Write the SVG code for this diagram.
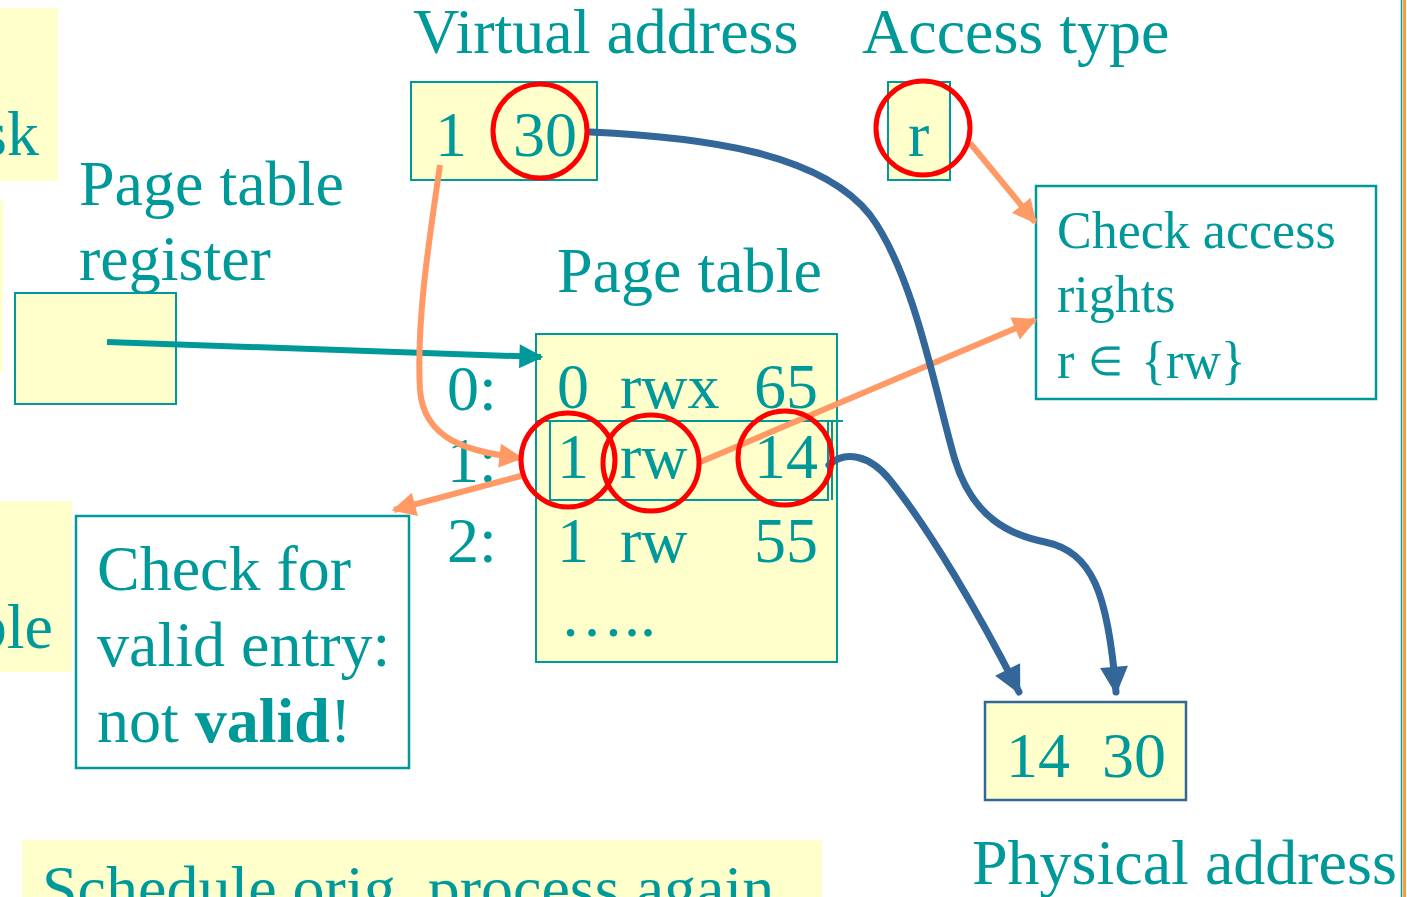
<svg xmlns="http://www.w3.org/2000/svg" width="1407" height="897" viewBox="0 0 1407 897">
  <style>
    .t { font-family: "Liberation Serif", "Times New Roman", serif; fill: #009999; }
    .big { font-size: 64px; }
    .mid { font-size: 52px; }
    .cell { fill: #FFFFCC; stroke: #009999; stroke-width: 2; }
    .note { fill: #FFFFFF; stroke: #009999; stroke-width: 2.5; }
    .pad { fill: #FFFFCC; }
    .ring { fill: none; stroke: #FF0000; stroke-width: 5; }
    .or { fill: none; stroke: #FF9966; stroke-width: 6; }
    .bl { fill: none; stroke: #336699; stroke-width: 7; stroke-linecap: round; }
    .tl { fill: none; stroke: #009999; stroke-width: 6; }
  </style>
  <defs>
    <marker id="ah-or" viewBox="0 0 10 10" refX="9" refY="5" markerWidth="28" markerHeight="24" markerUnits="userSpaceOnUse" orient="auto">
      <path d="M0,0 L10,5 L0,10 z" fill="#FF9966"/>
    </marker>
    <marker id="ah-bl" viewBox="0 0 10 10" refX="9" refY="5" markerWidth="32" markerHeight="28" markerUnits="userSpaceOnUse" orient="auto">
      <path d="M0,0 L10,5 L0,10 z" fill="#336699"/>
    </marker>
    <marker id="ah-tl" viewBox="0 0 10 10" refX="9" refY="5" markerWidth="30" markerHeight="24" markerUnits="userSpaceOnUse" orient="auto">
      <path d="M0,0 L10,5 L0,10 z" fill="#009999"/>
    </marker>
  </defs>

  <rect width="1407" height="897" fill="#FFFFFF"/>

  <!-- background panels partly outside the frame -->
  <g id="side-panels">
    <rect class="pad" x="0" y="8" width="58" height="173"/>
    <text class="t big" x="39" y="155" text-anchor="end">sk</text>
    <rect class="pad" x="0" y="200" width="3" height="173"/>
    <rect class="pad" x="0" y="501" width="72" height="171"/>
    <text class="t big" x="53" y="648" text-anchor="end">ble</text>
    <rect class="pad" x="22" y="840" width="800" height="57"/>
    <text class="t big" x="42" y="910">Schedule orig. process again</text>
  </g>

  <!-- frame edge on the right -->
  <g id="frame-edge">
    <line x1="1401.5" y1="0" x2="1401.5" y2="897" stroke="#009999" stroke-width="1.5"/>
    <line x1="1404.5" y1="0" x2="1404.5" y2="897" stroke="#FF9933" stroke-width="3"/>
  </g>

  <!-- virtual address -->
  <g id="virtual-address">
    <text class="t big" x="413" y="53">Virtual address</text>
    <rect class="cell" x="411" y="82" width="186" height="98"/>
    <text class="t big" x="435" y="156">1</text>
    <text class="t big" x="513" y="156">30</text>
  </g>

  <!-- access type -->
  <g id="access-type">
    <text class="t big" x="862" y="53">Access type</text>
    <rect class="cell" x="888" y="82" width="62" height="98"/>
    <text class="t big" x="908" y="156">r</text>
  </g>

  <!-- page table register -->
  <g id="page-table-register">
    <text class="t big" x="79" y="205">Page table</text>
    <text class="t big" x="79" y="280">register</text>
    <rect class="cell" x="15" y="293" width="161" height="111"/>
  </g>

  <!-- page table -->
  <g id="page-table">
    <text class="t big" x="557" y="292">Page table</text>
    <rect class="cell" x="536" y="334" width="301" height="328"/>
    <line x1="536" y1="421" x2="843" y2="421" stroke="#009999" stroke-width="2"/>
    <rect x="550" y="421" width="278" height="79" fill="none" stroke="#009999" stroke-width="2"/>
    <line x1="832" y1="421" x2="832" y2="500" stroke="#009999" stroke-width="2"/>
    <text class="t big" x="447" y="410">0:</text>
    <text class="t big" x="557" y="408">0</text>
    <text class="t big" x="620" y="408">rwx</text>
    <text class="t big" x="754" y="408">65</text>
    <text class="t big" x="447" y="482">1:</text>
    <text class="t big" x="557" y="478">1</text>
    <text class="t big" x="620" y="478">rw</text>
    <text class="t big" x="754" y="478">14</text>
    <text class="t big" x="447" y="562">2:</text>
    <text class="t big" x="557" y="562">1</text>
    <text class="t big" x="620" y="562">rw</text>
    <text class="t big" x="754" y="562">55</text>
    <text class="t big" x="560" y="636">…..</text>
  </g>

  <!-- access rights check -->
  <g id="check-access">
    <rect class="note" x="1036" y="186" width="340" height="213"/>
    <text class="t mid" x="1057" y="248">Check access</text>
    <text class="t mid" x="1057" y="312">rights</text>
    <text class="t mid" x="1057" y="378">r</text>
    <text class="t" font-size="40" x="1088" y="375">∈</text>
    <text class="t mid" x="1141" y="378">{rw}</text>
  </g>

  <!-- validity check -->
  <g id="check-valid">
    <rect class="note" x="76" y="516" width="333" height="252"/>
    <text class="t big" x="97" y="590">Check for</text>
    <text class="t big" x="97" y="666">valid entry:</text>
    <text class="t big" x="97" y="742">not <tspan font-weight="bold">valid</tspan>!</text>
  </g>

  <!-- physical address -->
  <g id="physical-address">
    <rect x="985" y="702" width="201" height="98" fill="#FFFFCC" stroke="#336699" stroke-width="2.5"/>
    <text class="t big" x="1006" y="777">14</text>
    <text class="t big" x="1102" y="777">30</text>
    <text class="t big" x="972" y="884">Physical address</text>
  </g>

  <!-- connectors -->
  <g id="connectors">
    <path class="tl" d="M107,342 L541,357" marker-end="url(#ah-tl)"/>
    <path class="or" d="M440,165 C430,235 416,320 420,390 C424,440 468,452 521,458" marker-end="url(#ah-or)"/>
    <path class="or" d="M698,463 L1035,320" marker-end="url(#ah-or)"/>
    <path class="or" d="M521,476 L394,510" marker-end="url(#ah-or)"/>
    <path class="or" d="M970,143 L1035,222" marker-end="url(#ah-or)"/>
    <path class="bl" d="M590,132 C700,137 820,152 870,215 C915,275 937,400 955,460 C973,518 1010,535 1045,542 C1092,552 1108,592 1116,692" marker-end="url(#ah-bl)"/>
    <path class="bl" d="M829,465 C845,450 870,455 890,480 C930,530 980,615 1019,692" marker-end="url(#ah-bl)"/>
  </g>

  <!-- highlight rings -->
  <g id="highlights">
    <circle class="ring" cx="540" cy="131" r="47"/>
    <circle class="ring" cx="923" cy="128" r="47"/>
    <circle class="ring" cx="568" cy="460" r="47"/>
    <circle class="ring" cx="651" cy="463" r="48"/>
    <circle class="ring" cx="785" cy="458" r="47"/>
  </g>
</svg>
